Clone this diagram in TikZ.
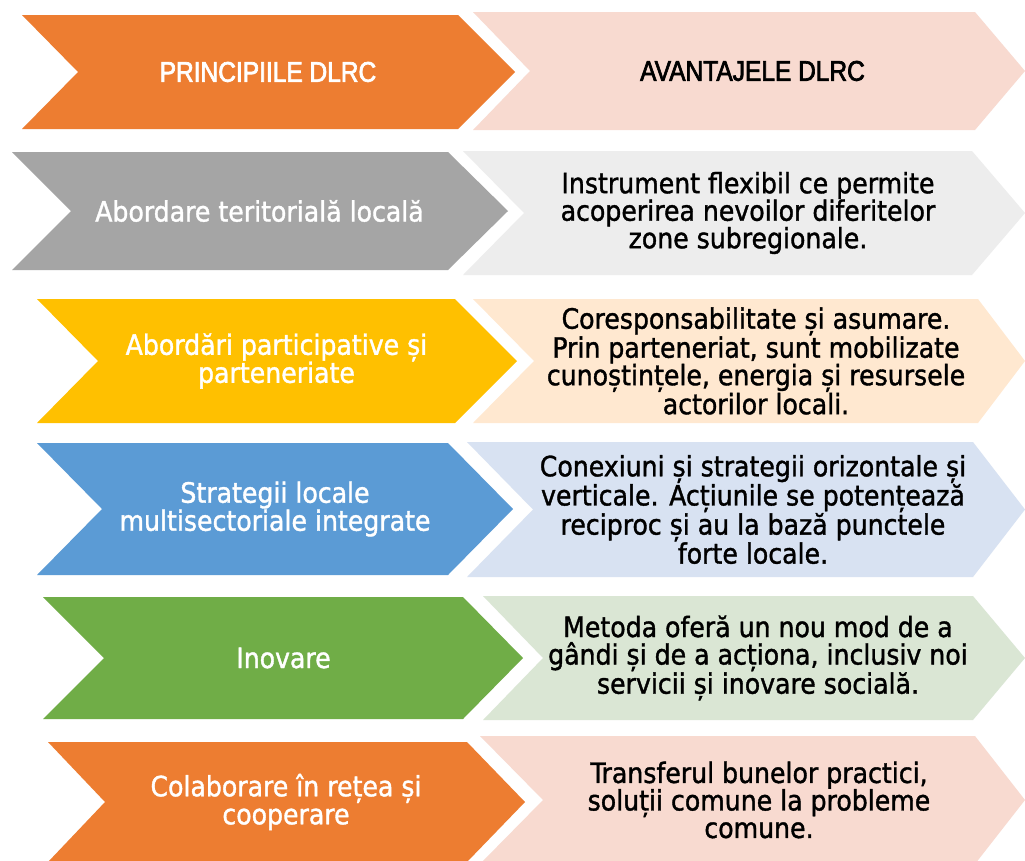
\documentclass[tikz,border=0pt]{standalone}
\usepackage{fontspec}
\newfontfamily\tfont[FakeBold=1.3]{DejaVu Sans Condensed}
\newfontfamily\nfont[FakeStretch=0.86,FakeBold=2.4]{Liberation Sans}
\definecolor{corange}{RGB}{237,125,49}
\definecolor{cpink}{RGB}{248,218,208}
\definecolor{cgray}{RGB}{165,165,165}
\definecolor{clgray}{RGB}{237,237,237}
\definecolor{cyellow}{RGB}{255,192,0}
\definecolor{cpeach}{RGB}{255,232,208}
\definecolor{cblue}{RGB}{91,155,213}
\definecolor{clblue}{RGB}{216,226,242}
\definecolor{cgreen}{RGB}{112,173,71}
\definecolor{clgreen}{RGB}{218,230,212}
\tikzset{
  lefttext/.style={text=white, font=\tfont\fontsize{28}{28}\selectfont, align=center, inner sep=0pt},
  righttext/.style={text=black, font=\tfont\fontsize{28}{27.5}\selectfont, align=center, inner sep=0pt},
  headleft/.style={text=white, font=\nfont\fontsize{28.5}{30}\selectfont, inner sep=0pt},
  headright/.style={text=black, font=\nfont\fontsize{28.5}{30}\selectfont, inner sep=0pt},
}
% L N C T Y1 Y2 colour name
\newcommand{\chevron}[8]{%
  \fill[#7] (#1,#5) -- (#3,#5) -- (#4,{(#5+#6)/2}) -- (#3,#6) -- (#1,#6) -- (#2,{(#5+#6)/2}) -- cycle;
  \coordinate (#8) at ({(#2+#3)/2},{(#5+#6)/2});
}
\begin{document}
\begin{tikzpicture}[x=1pt,y=-1pt]
\clip (0,0) rectangle (1025,860);
\fill[white] (0,0) rectangle (1025,860);
% row 1
\chevron{473}{530}{975}{1025}{12}{130}{cpink}{r1}
\chevron{22}{78}{458}{515}{15}{129}{corange}{l1}
\node[headleft] (p1) at (l1) {PRINCIPIILE DLRC};
\node[headright] (a1) at (r1) {AVANTAJELE DLRC};
% row 2
\chevron{463}{524}{972}{1025}{151}{275}{clgray}{r2}
\chevron{12}{71}{448}{508}{152}{270}{cgray}{l2}
\node[lefttext] (p2) at (l2) {Abordare teritorială locală};
\node[righttext] (a2) at (r2) {Instrument flexibil ce permite\\acoperirea nevoilor diferitelor\\zone subregionale.};
% row 3
\chevron{473}{534}{978}{1025}{299}{423}{cpeach}{r3}
\chevron{37}{98}{455}{517}{299}{423}{cyellow}{l3}
\node[lefttext] (p3) at (l3) {Abordări participative și\\parteneriate};
\node[righttext] (a3) at (r3) {Coresponsabilitate și asumare.\\Prin parteneriat, sunt mobilizate\\cunoștințele, energia și resursele\\actorilor locali.};
% row 4
\chevron{467}{533}{973}{1025}{442}{577}{clblue}{r4}
\chevron{37}{102}{448}{513}{443}{575}{cblue}{l4}
\node[lefttext] (p4) at (l4) {Strategii locale\\multisectoriale integrate};
\node[righttext] (a4) at (r4) {Conexiuni și strategii orizontale și\\verticale. Acțiunile se potențează\\reciproc și au la bază punctele\\forte locale.};
% row 5
\chevron{483}{543}{973}{1025}{596}{720}{clgreen}{r5}
\chevron{43}{104}{463}{523}{597}{719}{cgreen}{l5}
\node[lefttext] (p5) at (l5) {Inovare};
\node[righttext] (a5) at (r5) {Metoda oferă un nou mod de a\\gândi și de a acționa, inclusiv noi\\servicii și inovare socială.};
% row 6
\chevron{480}{543}{975}{1025}{736}{864}{cpink}{r6}
\chevron{48}{105}{467}{525}{742}{862}{corange}{l6}
\node[lefttext] (p6) at (l6) {Colaborare în rețea și\\cooperare};
\node[righttext] (a6) at (r6) {Transferul bunelor practici,\\soluții comune la probleme\\comune.};
\end{tikzpicture}
\end{document}
